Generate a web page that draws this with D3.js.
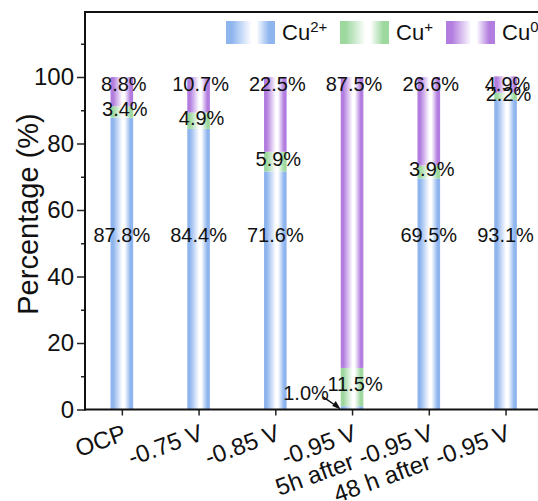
<!DOCTYPE html>
<html>
<head>
<meta charset="utf-8">
<script src="https://cdn.jsdelivr.net/npm/d3@7"></script>
<style>
  html, body { margin: 0; padding: 0; background: #fff; }
  svg { display: block; font-family: "Liberation Sans", Arial, sans-serif; }
</style>
</head>
<body>
<svg id="chart" width="538" height="501"></svg>
<script>
// Copper oxidation-state distribution per condition
const categories = ["OCP", "-0.75 V", "-0.85 V", "-0.95 V", "5h after -0.95 V", "48 h after -0.95 V"];
const cu2Values = [87.8, 84.4, 71.6, 1.0, 69.5, 93.1];
const cu1Values = [3.4, 4.9, 5.9, 11.5, 3.9, 2.2];
const cu0Values = [8.8, 10.7, 22.5, 87.5, 26.6, 4.9];
const seriesNames = ["Cu2+", "Cu+", "Cu0"];
const yTicks = [0, 20, 40, 60, 80, 100];
const yMinorTicks = [10, 30, 50, 70, 90, 110];

const svg = d3.select("#chart");
const W = 538, H = 501;
const plotLeft = 85, plotTop = 12, plotBottom = 409.5;

const x = d3.scaleLinear().domain([0.52, 6.5]).range([plotLeft, plotLeft + 5.98 * 76.74]);
const y = d3.scaleLinear().domain([0, 100]).range([plotBottom, 77]);
const barW = (x(2) - x(1)) * 0.295;

const colors = { "Cu2+": "#8fb5ef", "Cu+": "#9dd89f", "Cu0": "#b27ddf" };
const gradId = { "Cu2+": "g-cu2", "Cu+": "g-cu1", "Cu0": "g-cu0" };

// horizontal white-centred gradients for the bars
const defs = svg.append("defs");
seriesNames.forEach(s => {
  const g = defs.append("linearGradient").attr("id", gradId[s])
    .attr("x1", "0%").attr("x2", "100%").attr("y1", "0%").attr("y2", "0%");
  g.append("stop").attr("offset", "0%").attr("stop-color", colors[s]);
  g.append("stop").attr("offset", "12%").attr("stop-color", colors[s]);
  g.append("stop").attr("offset", "52%").attr("stop-color", "#ffffff");
  g.append("stop").attr("offset", "62%").attr("stop-color", "#ffffff");
  g.append("stop").attr("offset", "88%").attr("stop-color", colors[s]);
  g.append("stop").attr("offset", "100%").attr("stop-color", colors[s]);
});

const rows = categories.map((c, i) => ({
  cat: c, pos: i + 1,
  "Cu2+": cu2Values[i], "Cu+": cu1Values[i], "Cu0": cu0Values[i]
}));
const stacked = d3.stack().keys(seriesNames)(rows);

// bars
const barG = svg.append("g");
stacked.forEach(layer => {
  barG.selectAll(null).data(layer).enter().append("rect")
    .attr("x", d => x(d.data.pos) - barW / 2)
    .attr("width", barW)
    .attr("y", d => y(d[1]))
    .attr("height", d => y(d[0]) - y(d[1]))
    .attr("fill", `url(#${gradId[layer.key]})`);
});

// axes
const yAxis = d3.axisLeft(y).tickValues(yTicks).tickSize(8).tickPadding(3).tickFormat(d3.format("d"));
const yMinor = d3.axisLeft(y).tickValues(yMinorTicks).tickSize(4).tickFormat("");
const gy = svg.append("g").attr("transform", `translate(${plotLeft},0)`).call(yAxis);
const gyMinor = svg.append("g").attr("transform", `translate(${plotLeft},0)`).call(yMinor);
[gy, gyMinor].forEach(g => {
  g.select(".domain").remove();
  g.selectAll("line").attr("stroke", "#222").attr("stroke-width", 1.5);
});
gy.selectAll("text").attr("font-size", 24).attr("fill", "#111")
  .attr("font-family", "'Liberation Sans', Arial, sans-serif");

const xAxis = d3.axisBottom(x).tickValues(rows.map(r => r.pos)).tickSize(6).tickFormat("");
const gx = svg.append("g").attr("transform", `translate(0,${plotBottom})`).call(xAxis);
gx.select(".domain").remove();
gx.selectAll("line").attr("stroke", "#222").attr("stroke-width", 1.5);

// frame lines: left spine, bottom spine, top border
svg.append("line").attr("x1", plotLeft).attr("x2", plotLeft).attr("y1", plotTop).attr("y2", plotBottom + 1)
  .attr("stroke", "#111").attr("stroke-width", 2);
svg.append("line").attr("x1", plotLeft - 1).attr("x2", W).attr("y1", plotBottom).attr("y2", plotBottom)
  .attr("stroke", "#111").attr("stroke-width", 2);
svg.append("line").attr("x1", plotLeft - 1).attr("x2", W).attr("y1", plotTop).attr("y2", plotTop)
  .attr("stroke", "#111").attr("stroke-width", 2);

// category labels, rotated
svg.append("g").selectAll("text").data(rows).enter().append("text")
  .attr("transform", d => `translate(${x(d.pos) + 6},${plotBottom + 30}) rotate(-20)`)
  .attr("text-anchor", "end")
  .attr("font-size", 24).attr("fill", "#111")
  .text(d => d.cat);

// y title
svg.append("text")
  .attr("transform", `translate(38,214) rotate(-90)`)
  .attr("text-anchor", "middle")
  .attr("font-size", 29).attr("fill", "#111")
  .text("Percentage (%)");

// value labels
const fmt = v => v.toFixed(1) + "%";
const lab = svg.append("g").attr("font-size", 20).attr("fill", "#111").attr("text-anchor", "middle");
rows.forEach((r, i) => {
  const cx = x(r.pos);
  // Cu0 labels sit near the bar tops
  lab.append("text").attr("x", cx + 2).attr("y", y(98)).attr("dy", "0.35em").text(fmt(r["Cu0"]));
  // Cu+ labels at segment middle
  const mid = r["Cu2+"] + r["Cu+"] / 2 + 0.8;
  lab.append("text").attr("x", cx + 3).attr("y", y(mid)).attr("dy", "0.35em").text(fmt(r["Cu+"]));
  // Cu2+ labels at a common height, except the tiny -0.95 V share
  if (r["Cu2+"] > 5) {
    lab.append("text").attr("x", cx).attr("y", y(52.5)).attr("dy", "0.35em").text(fmt(r["Cu2+"]));
  } else {
    const lx = cx - 46, ly = y(5);
    lab.append("text").attr("x", lx).attr("y", ly).attr("dy", "0.35em").text(fmt(r["Cu2+"]));
    const tx = cx - barW / 2, ty = y(0);
    svg.append("line").attr("x1", lx + 17).attr("y1", ly + 4).attr("x2", tx - 3).attr("y2", ty - 2.5)
      .attr("stroke", "#111").attr("stroke-width", 1.5);
    svg.append("path")
      .attr("d", d3.line()([[tx, ty], [tx - 8.5, ty - 3.5], [tx - 5, ty - 8.5]]) + "Z")
      .attr("fill", "#111");
  }
});

// legend
const leg = svg.append("g");
const legX = [226, 340, 446];
seriesNames.forEach((s, i) => {
  leg.append("rect").attr("x", legX[i]).attr("y", 21).attr("width", 49).attr("height", 23)
    .attr("fill", `url(#${gradId[s]})`);
  const t = leg.append("text").attr("x", legX[i] + 56).attr("y", 40)
    .attr("font-size", 22).attr("fill", "#111");
  t.append("tspan").text("Cu");
  t.append("tspan").attr("font-size", 15).attr("dy", -8).text(s.slice(2));
});
</script>
</body>
</html>
